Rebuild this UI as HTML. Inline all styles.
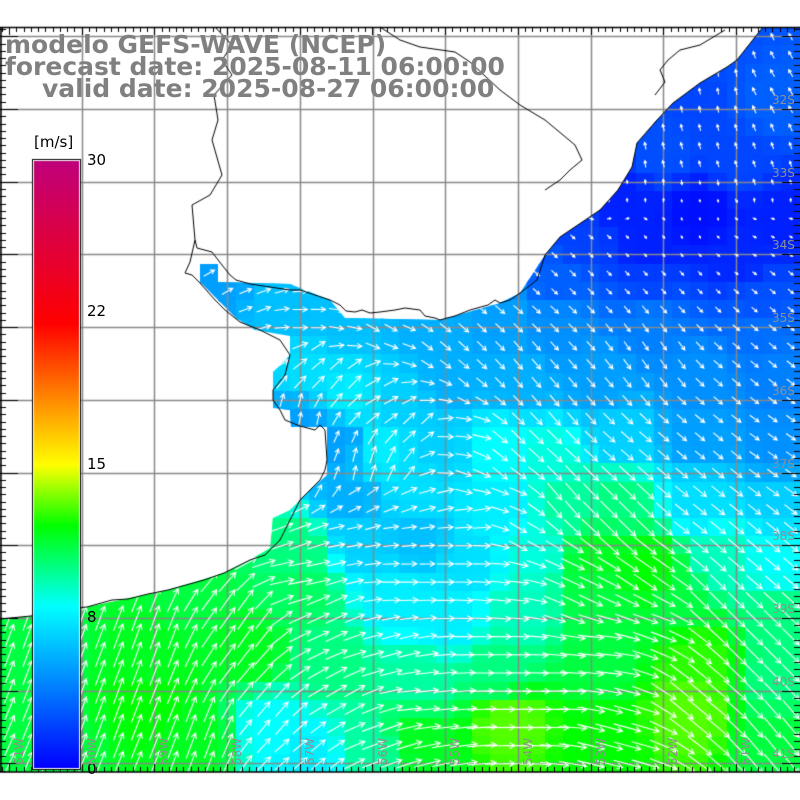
<!DOCTYPE html>
<html><head><meta charset="utf-8">
<style>
html,body{margin:0;padding:0;background:#fff;}
#w{position:relative;width:800px;height:800px;overflow:hidden;font-family:"DejaVu Sans","Liberation Sans",sans-serif;}
canvas{position:absolute;left:0;top:0;}
.t{position:absolute;color:#808080;font-weight:bold;font-size:25px;line-height:25px;white-space:nowrap;}
.l{position:absolute;font-size:15px;color:#000;font-family:"DejaVu Sans",sans-serif;}
.lat{position:absolute;font-size:12px;color:#909090;}
.lon{position:absolute;font-size:12px;color:#909090;transform:rotate(-90deg);transform-origin:left top;}
</style></head><body>
<div id="w">
<canvas id="c" width="800" height="800"></canvas>
<div class="t" style="left:5px;top:32px">modelo GEFS-WAVE (NCEP)</div>
<div class="t" style="left:5px;top:54px">forecast date: 2025-08-11 06:00:00</div>
<div class="t" style="left:42px;top:76px">valid date: 2025-08-27 06:00:00</div>
<div class="l" style="left:34px;top:133px">[m/s]</div>
<div class="l" style="left:87px;top:151px">30</div>
<div class="l" style="left:87px;top:302px">22</div>
<div class="l" style="left:87px;top:455px">15</div>
<div class="l" style="left:87px;top:608px">8</div>
<div class="l" style="left:87px;top:760px">0</div>
</div>
<script>
const c=document.getElementById('c'),x=c.getContext('2d');
const W=document.getElementById('w');
const P=[[763,27],[800,27],[800,772],[0,772],[0,619],[31,616],[87,607],[168,590],[224,573],[250,560],[270,548],[273,518],[290,510],[310,490],[327,475],[327,427],[291,427],[290,410],[273,408],[273,372],[290,355],[290,336],[255,330],[236,318],[218,300],[200,282],[200,264],[218,264],[218,282],[290,284],[330,300],[345,318],[440,320],[500,303],[520,293],[545,255],[560,237],[600,210],[618,190],[632,167],[637,143],[657,120],[673,103],[700,83],[727,67],[737,60]];
const poly=new Path2D();P.forEach((p,i)=>i?poly.lineTo(p[0],p[1]):poly.moveTo(p[0],p[1]));poly.closePath();
const stops=[[0,[0,0,255]],[8,[0,255,255]],[12,[0,255,0]],[15,[255,255,0]],[18.5,[255,128,0]],[22,[255,0,0]],[30,[192,0,122]]];
function col(s){s=Math.max(0,Math.min(30,s));for(let i=1;i<stops.length;i++){if(s<=stops[i][0]){const a=stops[i-1],b=stops[i],t=(s-a[0])/(b[0]-a[0]);return 'rgb('+a[1].map((v,k)=>Math.round(v+(b[1][k]-v)*t)).join(',')+')';}}return 'rgb(192,0,122)';}
const A=[[650,80,-100],[720,60,-100],[780,80,-120],[680,150,-105],[760,170,-110],[640,190,-95],[700,205,80],[650,240,50],[750,245,30],[600,270,45],[700,290,45],[780,290,40],
[220,290,-30],[260,300,-20],[300,320,0],[340,330,10],[380,330,30],[320,360,-40],[340,380,-50],[380,380,-30],[300,420,-80],[330,470,-70],[360,470,-80],[390,470,-65],[420,420,-45],[400,350,20],[440,350,40],[480,350,45],[520,370,50],[460,380,40],[440,395,10],
[460,440,5],[470,480,20],[500,470,40],[520,440,45],[560,400,50],[650,350,55],[750,350,40],[700,450,40],[780,450,35],
[360,500,-25],[400,500,-20],[440,500,-15],[480,510,-10],[505,500,20],[520,530,30],[560,500,50],[620,520,45],[650,580,35],[750,560,40],
[300,540,-20],[350,540,-10],[400,540,-5],[450,550,0],[480,560,0],[300,570,-10],[400,580,0],[500,590,5],[580,590,25],
[50,620,-70],[100,700,-70],[150,640,-70],[200,740,-70],[240,620,-55],[270,720,-50],[300,750,-40],[330,620,-25],[380,650,-15],[340,700,-30],[380,730,-20],[420,700,-5],[500,650,0],[550,700,0],[600,650,5],[620,730,15],[650,620,20],[700,700,40],[760,650,45],[780,740,50],[720,600,45]];
const S=[[720,45,2.5],[700,100,2.2],[770,100,3],[660,150,2.5],[740,160,2.2],[620,200,1],[700,215,0.5],[780,220,1],[580,240,2],[650,250,1],[740,260,1.2],[560,280,3],[650,290,2.2],[760,300,2.5],
[220,280,5],[280,300,6],[350,320,6],[430,330,5.5],[500,320,5],[560,330,4.5],[650,320,4],[760,330,3.5],
[310,380,7],[350,400,7.5],[300,420,5],[340,440,5],[400,400,6.5],[450,380,5.5],[520,380,5.5],[600,380,5],[700,380,4.5],[780,380,4],
[380,450,7.5],[440,450,6.5],[500,450,8],[550,460,8.5],[620,440,6.5],[700,440,5],[780,450,4.5],
[350,500,5.5],[420,490,7],[500,510,7.5],[570,500,9.5],[620,500,10],[700,500,7],[780,500,6.5],
[300,550,10],[360,540,6.5],[420,540,6],[470,560,7],[530,550,8.5],[600,560,11.5],[650,570,12],[720,560,9],[780,560,8],
[200,590,11],[300,590,10.5],[400,600,7.5],[450,620,7.5],[520,610,9],[600,600,11],[680,600,11],[780,620,10],
[50,650,11],[150,660,11.5],[250,650,11.5],[330,660,10],[420,680,9.5],[500,670,10],[600,660,11],[700,660,12.5],[780,680,10],
[50,740,11],[150,700,12],[200,740,11.5],[270,730,8],[310,760,7.5],[370,750,9.5],[420,740,11.5],[510,720,13],[600,740,12],[690,710,13],[780,740,11]];
function spd(X,Y){let n=0,d=0;for(const p of S){const w=1/Math.pow((X-p[0])**2+(Y-p[1])**2+150,2.5);n+=w*p[2];d+=w;}return n/d;}
function ang(X,Y){let u=0,v=0;for(const p of A){const w=1/Math.pow((X-p[0])**2+(Y-p[1])**2+100,2);const a=p[2]*Math.PI/180;u+=w*Math.cos(a);v+=w*Math.sin(a);}return Math.atan2(v,u);}
const cw=72.7/4,ox=0.1,oy=9.6;
x.save();x.clip(poly);
for(let j=-1;j<44;j++)for(let i=0;i<45;i++){const gx=ox+i*cw,gy=oy+j*cw;x.fillStyle=col(spd(gx+cw/2,gy+cw/2));x.fillRect(Math.floor(gx),Math.floor(gy),Math.ceil(cw)+1,Math.ceil(cw)+1);}
x.restore();
x.strokeStyle='#888';x.lineWidth=1.5;
for(let i=0;i<11;i++){const gx=Math.round(81.7+i*72.7)+.5;x.beginPath();x.moveTo(gx,27);x.lineTo(gx,772);x.stroke();}
for(let i=0;i<11;i++){const gy=Math.round(36.3+i*72.7)+.5;x.beginPath();x.moveTo(0,gy);x.lineTo(800,gy);x.stroke();}
x.strokeStyle='#fff';x.lineWidth=1.1;
for(let j=0;j<42;j++)for(let i=0;i<45;i++){const cx=ox+i*cw+cw/2,cy=oy+j*cw+cw/2;if(cy>772||!x.isPointInPath(poly,cx,cy))continue;
const s=spd(cx,cy),L=1.5+2.2*s,a=ang(cx,cy),dx=Math.cos(a),dy=Math.sin(a);
const x0=cx-dx*L/2,y0=cy-dy*L/2,x1=cx+dx*L/2,y1=cy+dy*L/2,h=Math.min(6,1+L*0.3);
x.beginPath();x.moveTo(x0,y0);x.lineTo(x1,y1);
x.moveTo(x1-h*Math.cos(a-0.5),y1-h*Math.sin(a-0.5));x.lineTo(x1,y1);x.lineTo(x1-h*Math.cos(a+0.5),y1-h*Math.sin(a+0.5));x.stroke();}
x.strokeStyle='#000';x.lineWidth=1;
function pl(pts){x.beginPath();pts.forEach((p,i)=>i?x.lineTo(p[0],p[1]):x.moveTo(p[0],p[1]));x.stroke();}
pl([[195,240],[197,248],[212,252],[222,265],[230,275],[236,280],[250,284],[290,290],[300,290],[330,300],[340,305],[346,311],[355,312],[362,310],[370,313],[380,312],[395,310],[405,308],[420,310],[425,316],[435,318],[440,320],[447,318],[455,316],[470,310],[488,305],[495,300],[500,303],[510,300],[520,293],[537,280],[545,255],[560,237],[600,210],[618,190],[632,167],[637,143],[657,120],[673,103],[700,83],[727,67],[737,60],[763,27]]);
pl([[195,240],[190,262],[185,273],[192,275],[200,283],[215,300],[225,310],[240,322],[260,330],[280,340],[290,355],[285,375],[273,390],[273,400],[280,410],[285,420],[300,426],[315,430],[320,425],[325,430],[327,460],[325,470],[320,480],[310,490],[300,500],[290,520],[280,540],[265,555],[250,560],[224,573],[204,580],[168,590],[148,594],[128,599],[112,600],[87,607],[51,610],[31,616],[0,619]]);
pl([[215,27],[232,45],[222,60],[232,75],[214,95],[218,120],[212,140],[222,175],[210,195],[192,205],[195,240]]);
pl([[380,27],[400,40],[420,47],[455,52],[470,62],[500,90],[520,105],[545,120],[575,145],[582,160],[570,170],[560,180],[545,190]]);
pl([[655,95],[665,82],[660,70],[668,60],[680,50],[700,45],[725,30]]);
x.strokeStyle='#000';x.lineWidth=1.5;
x.beginPath();x.moveTo(0,27.5);x.lineTo(800,27.5);x.moveTo(0,772);x.lineTo(800,772);x.moveTo(1,27);x.lineTo(1,772);x.stroke();
x.lineWidth=1;
for(let i=-20;i<=110;i++){const gx=Math.round(81.7+i*7.27)+.5;if(gx<0||gx>800)continue;const big=((i%10)+10)%10===0;
x.beginPath();x.moveTo(gx,27);x.lineTo(gx,27+(big?8:5));x.moveTo(gx,772);x.lineTo(gx,772-(big?8:5));x.stroke();}
for(let i=-5;i<=105;i++){const gy=Math.round(36.3+i*7.27)+.5;if(gy<27||gy>772)continue;const big=(i%10+10)%10===0;
x.beginPath();x.moveTo(0,gy);x.lineTo(big?18:6,gy);x.moveTo(800,gy);x.lineTo(big?782:794,gy);x.stroke();}
const g=x.createLinearGradient(0,768,0,162);stops.forEach(s=>g.addColorStop(s[0]/30,col(s[0])));
x.fillStyle='#000';x.fillRect(32,159,49,611);x.fillStyle='#fff';x.fillRect(33,160,47,609);x.fillStyle=g;x.fillRect(34,161,45,607);
for(let i=0;i<10;i++){const d=document.createElement('div');d.className='lat';d.textContent=(32+i)+'S';d.style.left='772px';d.style.top=(93+i*72.7)+'px';W.appendChild(d);}
for(let i=0;i<11;i++){const d=document.createElement('div');d.className='lon';d.textContent=(61-i)+'W';d.style.left=(12+i*72.7)+'px';d.style.top='765px';W.appendChild(d);}
</script>
</body></html>
